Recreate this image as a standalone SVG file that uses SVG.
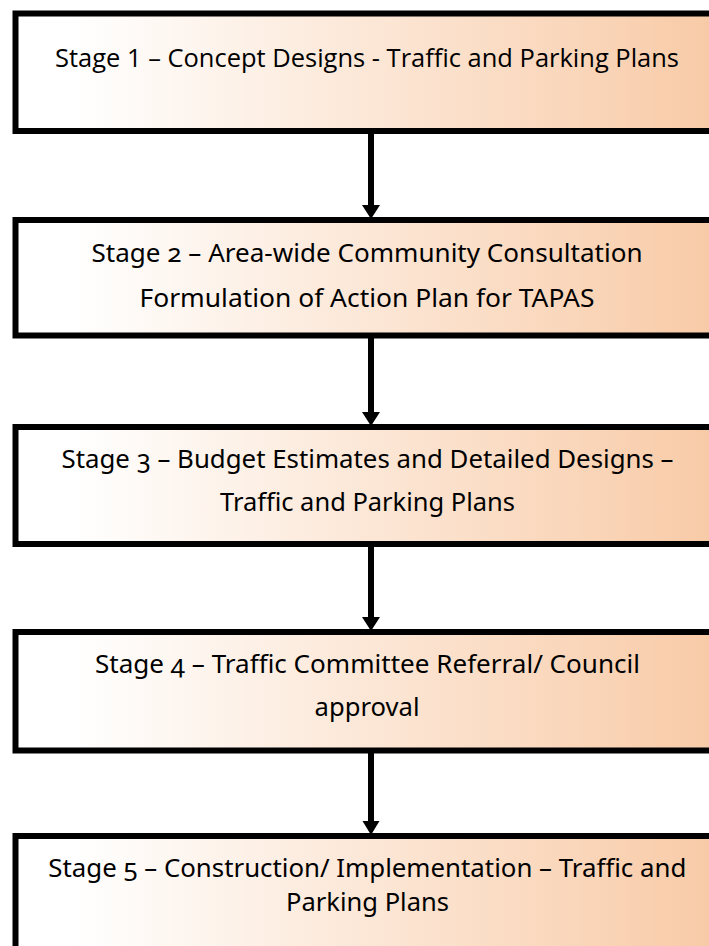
<svg xmlns="http://www.w3.org/2000/svg" width="709" height="946" viewBox="0 0 709 946">
<style>
.box{fill:url(#peach);stroke:#000;stroke-width:6}
.t1{font-family:"Open Sans","Liberation Sans",sans-serif;font-size:25.5px;fill:#000;text-anchor:middle}
.t2{font-family:"Noto Sans","Liberation Sans",sans-serif;font-size:25.5px;fill:#000;text-anchor:middle;font-variant-numeric:oldstyle-nums}
.conn{stroke:#000;stroke-width:6;fill:none}
.head{fill:#000}
</style>
<defs>
<linearGradient id="peach" x1="0" y1="0" x2="1" y2="0">
<stop offset="0" stop-color="#ffffff"/>
<stop offset="0.08" stop-color="#ffffff"/>
<stop offset="1" stop-color="#f8c9a4"/>
</linearGradient>
</defs>
<rect x="0" y="0" width="709" height="946" fill="#ffffff"/>
<g id="connectors">
<line class="conn" x1="371" y1="133" x2="371" y2="207"/>
<polygon class="head" points="362,205 380,205 371,219"/>
<line class="conn" x1="371" y1="337" x2="371" y2="414"/>
<polygon class="head" points="362,412 380,412 371,426"/>
<line class="conn" x1="371" y1="546" x2="371" y2="619"/>
<polygon class="head" points="362,617 380,617 371,631"/>
<line class="conn" x1="371" y1="752" x2="371" y2="823"/>
<polygon class="head" points="362.5,821 379.5,821 371,835"/>
</g>
<g id="stage1">
<rect class="box" x="15.5" y="13.5" width="720" height="117.5"/>
<text class="t1" x="367" y="66.7" textLength="624" lengthAdjust="spacingAndGlyphs">Stage 1 – Concept Designs - Traffic and Parking Plans</text>
</g>
<g id="stage2">
<rect class="box" x="15.5" y="220" width="720" height="115.5"/>
<text class="t2" x="367" y="261.7" textLength="551" lengthAdjust="spacingAndGlyphs">Stage 2 – Area-wide Community Consultation</text>
<text class="t2" x="367" y="307" textLength="455" lengthAdjust="spacingAndGlyphs">Formulation of Action Plan for TAPAS</text>
</g>
<g id="stage3">
<rect class="box" x="15.5" y="427" width="720" height="117"/>
<text class="t2" x="367.5" y="468.3" textLength="612" lengthAdjust="spacingAndGlyphs">Stage 3 – Budget Estimates and Detailed Designs –</text>
<text class="t2" x="367.5" y="511" textLength="295" lengthAdjust="spacingAndGlyphs">Traffic and Parking Plans</text>
</g>
<g id="stage4">
<rect class="box" x="15.5" y="632" width="720" height="118.5"/>
<text class="t2" x="367.5" y="673.3" textLength="545" lengthAdjust="spacingAndGlyphs">Stage 4 – Traffic Committee Referral/ Council</text>
<text class="t2" x="367" y="716" textLength="105" lengthAdjust="spacingAndGlyphs">approval</text>
</g>
<g id="stage5">
<rect class="box" x="15.5" y="836" width="720" height="140"/>
<text class="t2" x="367.3" y="876.7" textLength="638" lengthAdjust="spacingAndGlyphs">Stage 5 – Construction/ Implementation – Traffic and</text>
<text class="t2" x="367.5" y="911" textLength="163" lengthAdjust="spacingAndGlyphs">Parking Plans</text>
</g>
</svg>
